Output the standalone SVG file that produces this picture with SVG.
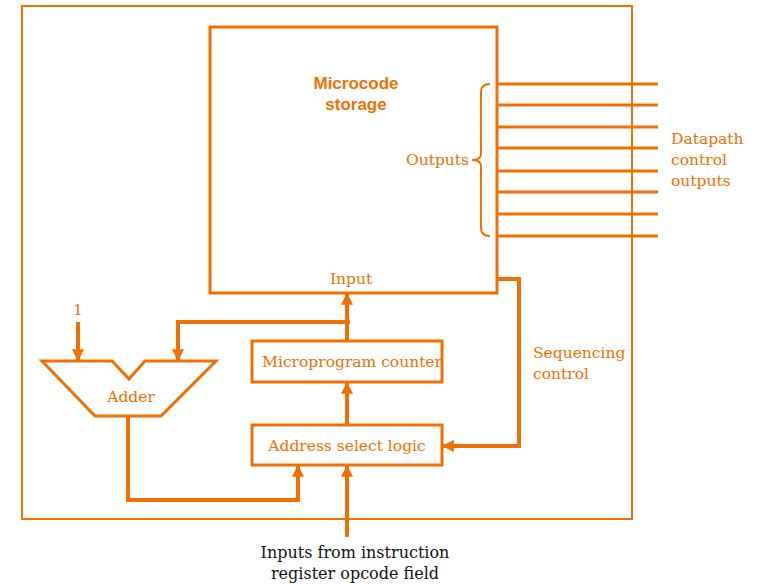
<svg xmlns="http://www.w3.org/2000/svg" width="762" height="584" viewBox="0 0 762 584">
<defs>
<style>
.ln{stroke:#F07000;fill:none;stroke-linejoin:miter}
.t{font-family:"DejaVu Serif","Liberation Serif",serif;font-size:15.5px;fill:#F07000}
.tb{font-family:"Liberation Sans",Arial,sans-serif;font-size:17px;font-weight:bold;fill:#F07000;text-anchor:middle}
.tk{font-family:"DejaVu Serif","Liberation Serif",serif;font-size:16px;fill:#111;text-anchor:middle}
</style>
<marker id="ah" viewBox="0 0 10 10" refX="9" refY="5" markerWidth="3" markerHeight="3" orient="auto" markerUnits="strokeWidth">
<path d="M0,0 L10,5 L0,10 z" fill="#F07000"/>
</marker>
</defs>
<rect width="762" height="584" fill="#fff"/>
<rect class="ln" x="22" y="6" width="610" height="513" stroke-width="2"/>
<g id="storage">
<rect class="ln" x="210" y="27" width="287" height="266" stroke-width="3"/>
<text class="tb" x="356" y="89">Microcode</text>
<text class="tb" x="356" y="110">storage</text>
<text class="t" x="351" y="284" text-anchor="middle">Input</text>
</g>
<g id="outputs">
<path class="ln" stroke-width="2" d="M490,84 Q481,84 481,92 L481,154 Q481,160 472,160 Q481,160 481,166 L481,228 Q481,236 490,236"/>
<text class="t" x="469" y="165" text-anchor="end">Outputs</text>
</g>
<g id="datapath">
<text class="t" x="671" y="144">Datapath</text>
<text class="t" x="671" y="165">control</text>
<text class="t" x="671" y="186">outputs</text>
</g>
<g id="adder">
<path class="ln" stroke-width="3" d="M42,361 L112,361 L129,379 L145,361 L216,361 L161,416 L95,416 Z"/>
<text class="t" x="131" y="402" text-anchor="middle">Adder</text>
<text class="t" x="78" y="315" text-anchor="middle">1</text>
</g>
<g id="mpc">
<rect class="ln" x="252" y="341" width="190" height="41" stroke-width="3"/>
<text class="t" x="352" y="367" text-anchor="middle">Microprogram counter</text>
</g>
<g id="asl">
<rect class="ln" x="252" y="425" width="190" height="40" stroke-width="3"/>
<text class="t" x="347" y="451" text-anchor="middle">Address select logic</text>
</g>
<g id="seq">
<text class="t" x="533" y="358">Sequencing</text>
<text class="t" x="533" y="379">control</text>
</g>
<g id="inputs">
<text class="tk" x="355" y="558">Inputs from instruction</text>
<text class="tk" x="355" y="579">register opcode field</text>
</g>
<g id="connectors">
<g class="ln" stroke-width="3">
<path d="M497,84H658M497,105H658M497,127H658M497,148H658M497,171H658M497,192H658M497,214H658M497,236H658"/>
</g>
<g class="ln" stroke-width="4">
<path d="M347,341 V294" marker-end="url(#ah)"/>
<path d="M347,322 H178 V360" marker-end="url(#ah)"/>
<path d="M78,322 V360" marker-end="url(#ah)"/>
<path d="M347,425 V383" marker-end="url(#ah)"/>
<path d="M497,279 H519 V446 H443" marker-end="url(#ah)"/>
<path d="M347,537 V466" marker-end="url(#ah)"/>
<path d="M128,416 V500 H298 V466" marker-end="url(#ah)"/>
</g>
<circle cx="347" cy="322" r="3" fill="#F07000"/>
</g>
</svg>
